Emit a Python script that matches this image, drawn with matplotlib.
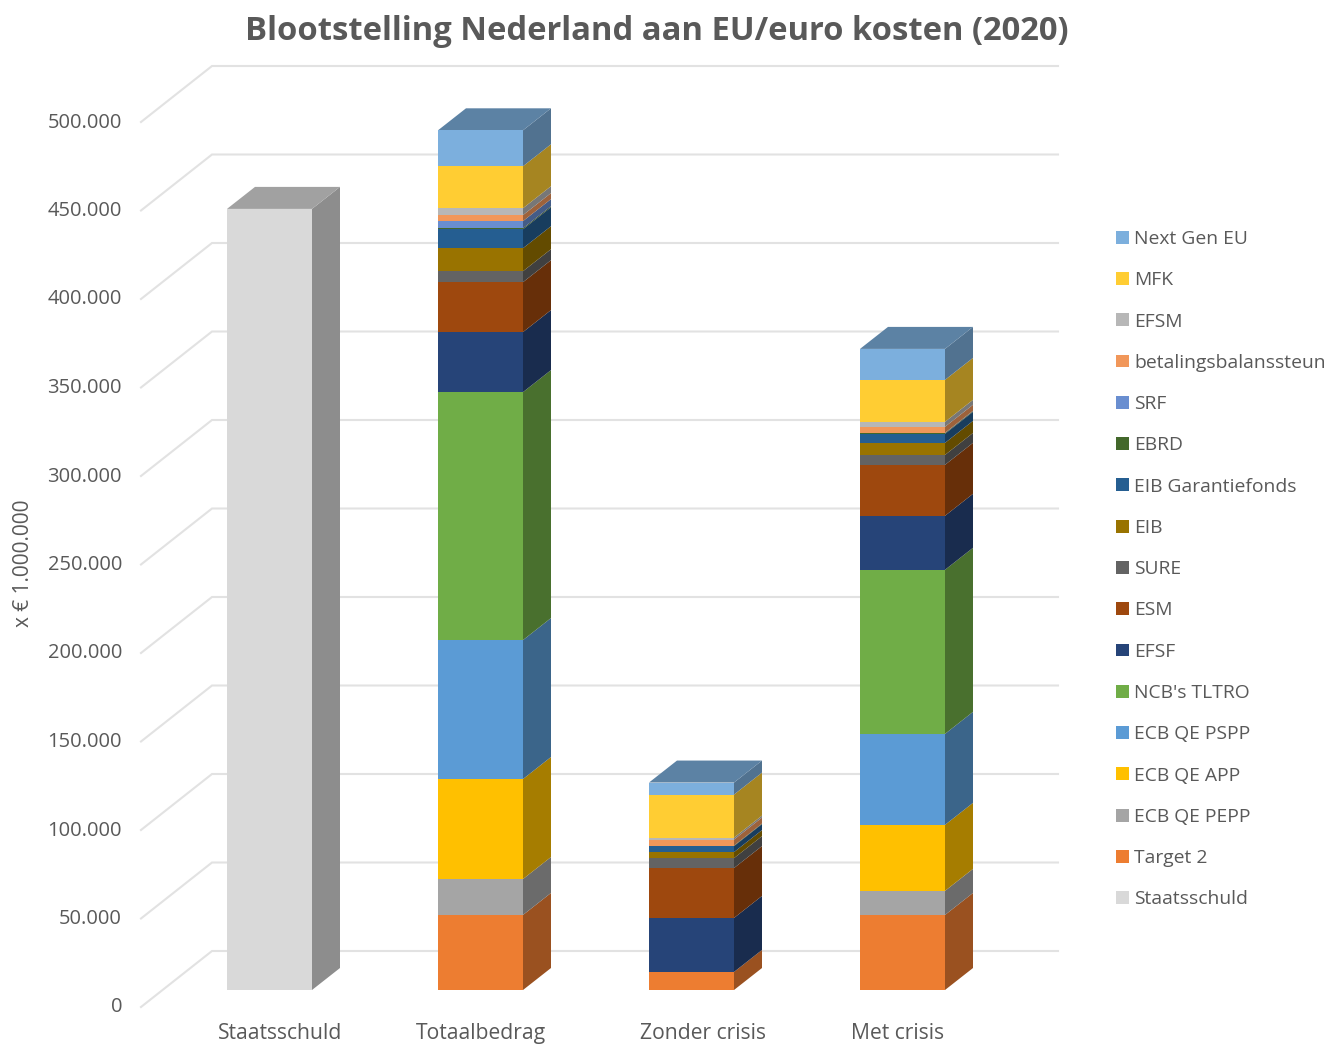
import numpy as np
import matplotlib
matplotlib.use("Agg")
import matplotlib.pyplot as plt
from matplotlib.patches import Polygon
from matplotlib.colors import to_rgb
from matplotlib.ticker import FuncFormatter

plt.rcParams['font.family'] = ['Open Sans', 'DejaVu Sans']
TXT = '#595959'

categories = ['Staatsschuld', 'Totaalbedrag', 'Zonder crisis', 'Met crisis']
staatsschuld = [441300, 0, 0, 0]
target2   = [0, 42400, 10200, 42400]
qe_pepp   = [0, 20300, 0, 13600]
qe_app    = [0, 56500, 0, 37300]
qe_pspp   = [0, 78500, 0, 51400]
tltro     = [0, 140100, 0, 92700]
efsf      = [0, 33900, 30500, 30500]
esm       = [0, 28200, 28200, 28800]
sure      = [0, 6200, 5600, 5600]
eib       = [0, 13000, 3400, 6800]
eib_gar   = [0, 10700, 3400, 5100]
ebrd      = [0, 600, 300, 400]
srf       = [0, 4000, 0, 200]
betaling  = [0, 3400, 3400, 3400]
efsm      = [0, 3900, 1100, 2800]
mfk       = [0, 23700, 24300, 23700]
next_gen  = [0, 20300, 6800, 17500]

series = [
    ('Staatsschuld', staatsschuld, '#D9D9D9'),
    ('Target 2', target2, '#ED7D31'),
    ('ECB QE PEPP', qe_pepp, '#A5A5A5'),
    ('ECB QE APP', qe_app, '#FFC000'),
    ('ECB QE PSPP', qe_pspp, '#5B9BD5'),
    ("NCB's TLTRO", tltro, '#70AD47'),
    ('EFSF', efsf, '#264478'),
    ('ESM', esm, '#9E480E'),
    ('SURE', sure, '#636363'),
    ('EIB', eib, '#997300'),
    ('EIB Garantiefonds', eib_gar, '#255E91'),
    ('EBRD', ebrd, '#43682B'),
    ('SRF', srf, '#698ED0'),
    ('betalingsbalanssteun', betaling, '#F1975A'),
    ('EFSM', efsm, '#B7B7B7'),
    ('MFK', mfk, '#FFCD33'),
    ('Next Gen EU', next_gen, '#7CAFDD'),
]
y_ticks = list(range(0, 500001, 50000))

W, H = 1338, 1045
fig = plt.figure(figsize=(W / 100, H / 100), dpi=100)

# geometry of the pseudo-3D scene, in pixels of the picture
PX_PER_UNIT = 0.00177
BASE_PY, AX_TOP, AX_BOT = 990, 60, 1010
SPACING, FIRST_C, BAR_W = 211.0, 269.5, 85.0
DEPTH_X, DEPTH_Y = 28.0, 22.0

ax = fig.add_axes([0, 1 - AX_BOT / H, 1, (AX_BOT - AX_TOP) / H])
ax.set_xlim((0 - FIRST_C) / SPACING, (W - FIRST_C) / SPACING)
ax.set_ylim((BASE_PY - AX_BOT) / PX_PER_UNIT, (BASE_PY - AX_TOP) / PX_PER_UNIT)

px2x = lambda p: (p - FIRST_C) / SPACING
dx = DEPTH_X / SPACING
dy = DEPTH_Y / PX_PER_UNIT
w = BAR_W / SPACING

# back wall gridlines with the slanted floor/side part
back_off = (BASE_PY - 951) / PX_PER_UNIT
front_off = (BASE_PY - 1007) / PX_PER_UNIT
for v in y_ticks:
    ax.plot([px2x(141), px2x(212), px2x(1058)],
            [v + front_off, v + back_off, v + back_off],
            color='#E2E2E2', lw=1.5, zorder=1, solid_joinstyle='miter')

def shade(c, f):
    return tuple(np.array(to_rgb(c)) * f)

xs = np.arange(len(categories), dtype=float)
bottom = np.zeros(len(categories))
handles = []
for name, vals, col in series:
    vals = np.array(vals, dtype=float)
    bars = ax.bar(xs, vals, w, bottom=bottom, color=col, label=name, zorder=3, linewidth=0)
    handles.append(bars)
    for x, b, v in zip(xs, bottom, vals):
        if v > 0:
            r = x + w / 2
            ax.add_patch(Polygon([(r, b), (r + dx, b + dy), (r + dx, b + v + dy), (r, b + v)],
                                 closed=True, fc=shade(col, 0.65), ec='none', zorder=2.5))
    bottom = bottom + vals

# top face takes the colour of the uppermost visible segment
for i, x in enumerate(xs):
    top_col = [c for _, vals, c in series if vals[i] > 0][-1]
    l, r, t = x - w / 2, x + w / 2, bottom[i]
    ax.add_patch(Polygon([(l, t), (l + dx, t + dy), (r + dx, t + dy), (r, t)],
                         closed=True, fc=shade(top_col, 0.74), ec='none', zorder=2.6))

# category labels
ax.set_xticks([px2x(p) for p in (280, 481, 703, 898)])
ax.set_xticklabels(categories, fontsize=15.2, color=TXT)
ax.tick_params(axis='x', length=0, pad=9.5)
ax.set_yticks([])
for s in ax.spines.values():
    s.set_visible(False)
ax.patch.set_alpha(0)

# value axis, sits on the front edge of the floor
ax2 = fig.add_axes([122 / W, 1 - 1005 / H, 10 / W, (1005 - 120) / H])
ax2.set_ylim(0, 500000)
ax2.set_xticks([])
ax2.set_yticks(y_ticks)
ax2.yaxis.set_major_formatter(FuncFormatter(lambda v, _: f'{int(v):,}'.replace(',', '.')))
ax2.tick_params(axis='y', length=0, pad=0, labelsize=14.5, labelcolor=TXT)
ax2.set_ylabel('x € 1.000.000', fontsize=15, color=TXT)
ax2.yaxis.set_label_coords((34 - 122) / 10, (1005 - 563) / (1005 - 120))
for s in ax2.spines.values():
    s.set_visible(False)
ax2.patch.set_alpha(0)

fig.text(657 / W, 1 - 32 / H, 'Blootstelling Nederland aan EU/euro kosten (2020)',
         ha='center', va='center', fontsize=23.6, fontweight='bold', color=TXT)

leg = fig.legend(handles[::-1], [s[0] for s in series][::-1],
                 loc='upper left', bbox_to_anchor=(1116 / W, 1 - 230 / H),
                 frameon=False, fontsize=13.85, labelcolor=TXT, borderpad=0, borderaxespad=0,
                 handlelength=0.65, handleheight=0.65, handletextpad=0.3, labelspacing=1.21)

fig.savefig('out.png', dpi=100)
